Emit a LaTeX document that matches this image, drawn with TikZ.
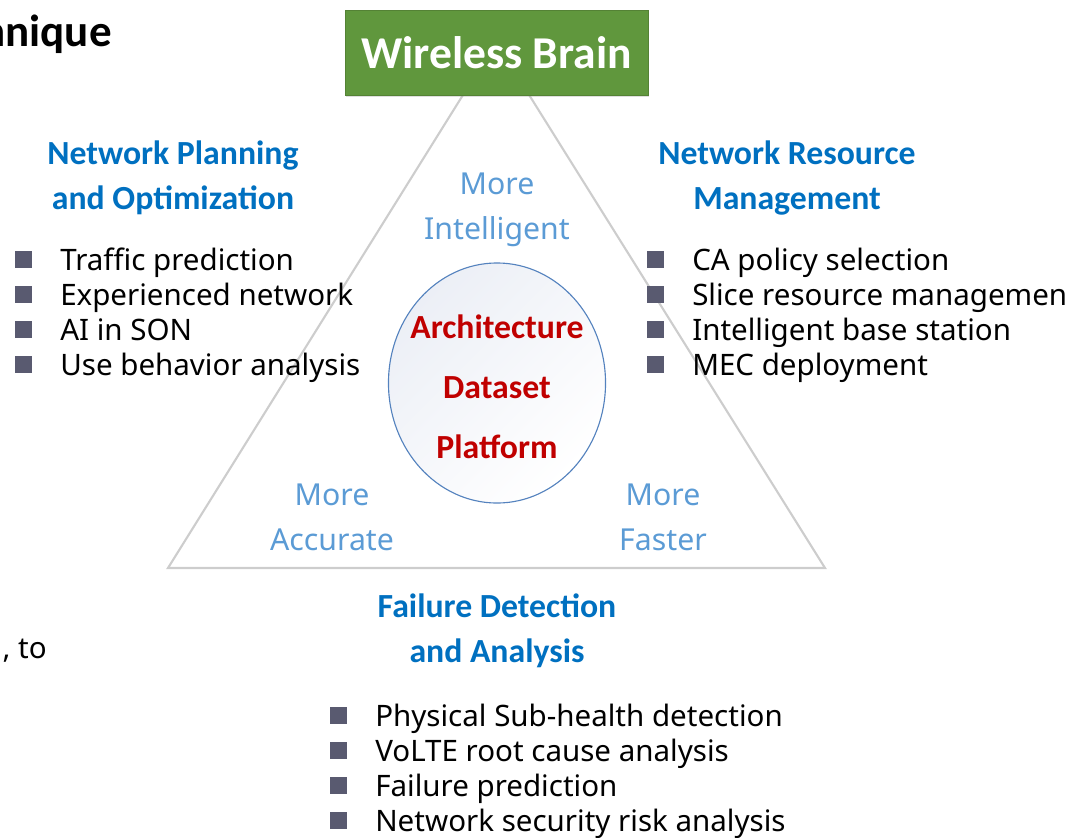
\documentclass[tikz,border=0pt]{standalone}
\usepackage{fontspec}
\setmainfont{Noto Sans}
\newfontfamily\headfont{Carlito}
\usepackage{xcolor}
\usepackage{tikz}
\usetikzlibrary{shadows,shapes.geometric}
\definecolor{braingreen}{RGB}{96,151,61}
\definecolor{brainedge}{RGB}{84,130,53}
\definecolor{headblue}{RGB}{0,112,192}
\definecolor{softblue}{RGB}{91,155,213}
\definecolor{archred}{RGB}{192,0,0}
\definecolor{sqgray}{RGB}{89,90,112}
\definecolor{edgegray}{RGB}{205,205,205}
\definecolor{ringblue}{RGB}{84,130,190}
\definecolor{ringfill}{RGB}{236,239,246}
\newcommand{\sq}{\textcolor{sqgray}{\rule[1.4pt]{12pt}{12pt}}\hspace{20pt}}

\begin{document}
\begin{tikzpicture}[
    x=0.025cm, y=-0.025cm,
    brain/.style={rectangle, draw=brainedge, fill=braingreen, text=white,
                  minimum width=7.575cm, minimum height=2.125cm,
                  font=\headfont\bfseries\fontsize{32.4}{36}\selectfont,
                  drop shadow={opacity=0.25, shadow xshift=0.6pt, shadow yshift=-1.2pt}},
    edge/.style={edgegray, line width=1.5pt, line join=miter},
    ring/.style={ellipse, draw=ringblue, line width=0.8pt,
                 top color=ringfill, bottom color=white, shading angle=45,
                 minimum width=5.425cm, minimum height=6cm},
    core/.style={text=archred, align=center,
                 font=\headfont\bfseries\fontsize{24}{42.7}\selectfont},
    heading/.style={text=headblue, align=center,
                    font=\headfont\bfseries\fontsize{24}{32}\selectfont},
    soft/.style={text=softblue, align=center,
                 font=\fontsize{21.5}{32}\selectfont},
    item/.style={anchor=base west, inner sep=0pt,
                 font=\fontsize{21}{25}\selectfont}]
\useasboundingbox (0,0) rectangle (1067,837);
\clip (0,0) rectangle (1067,837);

% triangle behind the title box
\coordinate (apex) at (496,42);
\coordinate (lc) at (168,568);
\coordinate (rc) at (825,568);
\draw[edge] (lc) -- (apex) -- (rc) -- cycle;
\node[brain] (brain) at (496.5,52.5) {Wireless Brain};

% centre
\node[ring] (ring) at (497,383) {};
\node[core] (platform) at (497,387) {Architecture\\Dataset\\Platform};
\node[soft] (intel) at (497,210) {More\\Intelligent};
\node[soft] (accurate) at (332,517) {More\\Accurate};
\node[soft] (faster) at (663,517) {More\\Faster};

% three fields
\node[heading] (plan) at (173,178) {Network Planning\\and Optimization};
\node[heading] (resource) at (787,178) {Network Resource\\Management};
\node[heading] (failure) at (497,631) {Failure Detection\\and Analysis};

\node[item] (l1) at (15,270) {\sq Traffic prediction};
\node[item] (l2) at (15,305) {\sq Experienced network};
\node[item] (l3) at (15,340) {\sq AI in SON};
\node[item] (l4) at (15,375) {\sq Use behavior analysis};

\node[item] (r1) at (647,270) {\sq CA policy selection};
\node[item] (r2) at (647,305) {\sq Slice resource management};
\node[item] (r3) at (647,340) {\sq Intelligent base station};
\node[item] (r4) at (647,375) {\sq MEC deployment};

\node[item] (b1) at (330,726) {\sq Physical Sub-health detection};
\node[item] (b2) at (330,761) {\sq VoLTE root cause analysis};
\node[item] (b3) at (330,796) {\sq Failure prediction};
\node[item] (b4) at (330,831) {\sq Network security risk analysis};

% cut-off slide text
\node[anchor=base east, inner sep=0pt, font=\headfont\bfseries\fontsize{32}{36}\selectfont] (tech) at (112,46) {Technique};
\node[anchor=base east, inner sep=0pt, font=\fontsize{21}{25}\selectfont] (to) at (47,658) {, to};
\end{tikzpicture}
\end{document}
